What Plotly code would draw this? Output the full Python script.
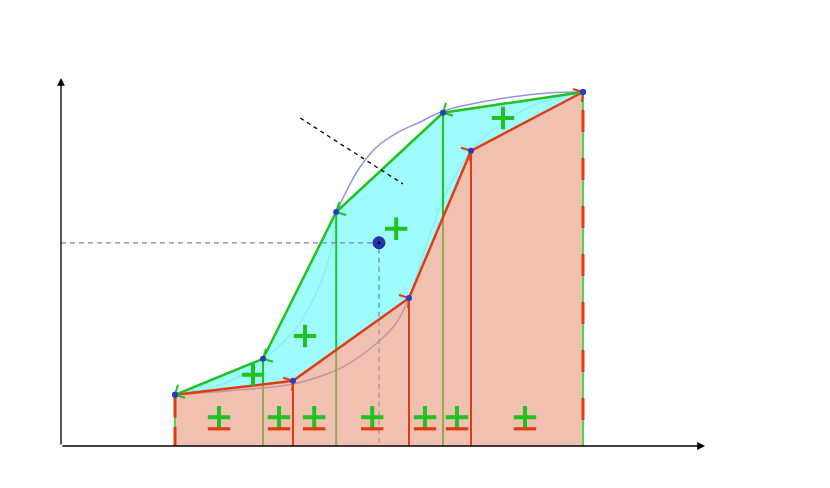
import plotly.graph_objects as go

# upper polygonal path (green) and lower polygonal path (red), data units
upper_x = [2.85, 5.05, 6.88, 9.55, 13.05]
upper_y = [1.28, 2.18, 5.85, 8.33, 8.85]
lower_x = [2.85, 5.8, 8.7, 10.25, 13.05]
lower_y = [1.28, 1.63, 3.7, 7.38, 8.85]

# the two smooth curves
curve_hi_x = [2.85, 3.85, 4.73, 5.35, 5.9, 6.3, 6.6, 6.78, 6.9, 7.15, 7.48, 7.9, 8.4, 8.98, 9.55, 10.98, 12.23, 13.05]
curve_hi_y = [1.28, 1.48, 1.9, 2.4, 2.98, 3.65, 4.35, 5.05, 5.83, 6.4, 6.98, 7.48, 7.83, 8.1, 8.37, 8.68, 8.83, 8.85]
curve_lo_x = [2.85, 4.23, 5.8, 6.73, 7.23, 7.85, 8.35, 8.7, 9.15, 9.55, 9.9, 10.25, 11.05, 11.98, 13.05]
curve_lo_y = [1.28, 1.38, 1.55, 1.83, 2.08, 2.53, 3.03, 3.7, 5.08, 6.15, 6.83, 7.38, 8.1, 8.58, 8.85]

# marked point and its normal line
pt_x, pt_y = 7.95, 5.08
normal_x = [5.98, 8.55]
normal_y = [8.2, 6.55]

# signs
plus_x = [4.8, 6.1, 8.38, 11.05]
plus_y = [1.78, 2.75, 5.43, 8.2]
pm_x = [3.95, 5.45, 6.33, 7.78, 9.1, 9.9, 11.6]
pm_y_plus = 0.72
pm_y_minus = 0.43

x_end, y_end = 16.1, 9.2

GREEN = "#1fc21f"
RED = "#e03c12"
DOT = "#2b3bc8"
CURVE = "#8e97e0"
PX = 40.0  # pixels per unit


def barbs(xs, ys, offs):
    bx, by = [], []
    for x, y in zip(xs, ys):
        for dx, dy in offs:
            bx += [x, x + dx / PX, None]
            by += [y, y - dy / PX, None]
    return bx, by


fig = go.Figure()

# curves (under the fills)
for cx, cy in [(curve_hi_x, curve_hi_y), (curve_lo_x, curve_lo_y)]:
    fig.add_trace(go.Scatter(x=cx, y=cy, mode="lines",
                             line=dict(color=CURVE, width=1.5, shape="spline", smoothing=1)))

# cyan region between the two paths
fig.add_trace(go.Scatter(
    x=upper_x + lower_x[::-1], y=upper_y + lower_y[::-1],
    mode="none", fill="toself", fillcolor="rgba(142,252,252,0.85)"))

# dashed projections of the point
fig.add_trace(go.Scatter(x=[0, pt_x, pt_x], y=[pt_y, pt_y, 0], mode="lines",
                         line=dict(color="#6f86d8", width=1.3, dash="5px,4px")))

# green verticals (interior)
vx, vy = [], []
for x, y in zip(upper_x[1:-1], upper_y[1:-1]):
    vx += [x, x, None]
    vy += [0, y, None]
fig.add_trace(go.Scatter(x=vx, y=vy, mode="lines", line=dict(color=GREEN, width=2)))

# salmon area under lower path
fig.add_trace(go.Scatter(
    x=[lower_x[0]] + lower_x + [lower_x[-1]], y=[0] + lower_y + [0],
    mode="none", fill="toself", fillcolor="rgba(230,150,123,0.6)"))

# red verticals (interior)
vx, vy = [], []
for x, y in zip(lower_x[1:-1], lower_y[1:-1]):
    vx += [x, x, None]
    vy += [0, y, None]
fig.add_trace(go.Scatter(x=vx, y=vy, mode="lines", line=dict(color=RED, width=2)))

# edge verticals: green with red dashes
fig.add_trace(go.Scatter(x=[upper_x[0], upper_x[0]], y=[upper_y[0], 0], mode="lines",
                         line=dict(color="#4fd84f", width=2)))
fig.add_trace(go.Scatter(x=[upper_x[-1], upper_x[-1]], y=[upper_y[-1], 0], mode="lines",
                         line=dict(color="#4fd84f", width=2)))
fig.add_trace(go.Scatter(x=[lower_x[0], lower_x[0]], y=[lower_y[0], 0], mode="lines",
                         line=dict(color=RED, width=3, dash="23px,9px")))
fig.add_trace(go.Scatter(x=[lower_x[-1], lower_x[-1]], y=[lower_y[-1], 0], mode="lines",
                         line=dict(color=RED, width=3, dash="0px,18px,22px,8px")))

# paths
fig.add_trace(go.Scatter(x=lower_x, y=lower_y, mode="lines", line=dict(color=RED, width=2.5)))
fig.add_trace(go.Scatter(x=upper_x, y=upper_y, mode="lines", line=dict(color=GREEN, width=2.5)))

# arrow barbs
bx, by = barbs(lower_x[1:], lower_y[1:], [(-10, -3), (-1, 10)])
fig.add_trace(go.Scatter(x=bx, y=by, mode="lines", line=dict(color=RED, width=2)))
bx, by = barbs(upper_x[:-1], upper_y[:-1], [(3, -10), (10, 3)])
fig.add_trace(go.Scatter(x=bx, y=by, mode="lines", line=dict(color=GREEN, width=2)))

# vertices
fig.add_trace(go.Scatter(x=upper_x + lower_x, y=upper_y + lower_y, mode="markers",
                         marker=dict(color=DOT, size=6)))

# normal line
fig.add_trace(go.Scatter(x=normal_x, y=normal_y, mode="lines",
                         line=dict(color="black", width=1.3, dash="4px,4px")))

# marked point
fig.add_trace(go.Scatter(x=[pt_x], y=[pt_y], mode="markers",
                         marker=dict(color="#2436b4", size=12, line=dict(color="#1a2690", width=1))))
fig.add_trace(go.Scatter(x=[pt_x], y=[pt_y], mode="markers",
                         marker=dict(color="black", size=3)))

# signs
fig.add_trace(go.Scatter(x=plus_x + pm_x, y=plus_y + [pm_y_plus] * len(pm_x), mode="markers",
                         marker=dict(symbol="cross-thin", size=16, line=dict(color=GREEN, width=4))))
fig.add_trace(go.Scatter(x=pm_x, y=[pm_y_minus] * len(pm_x), mode="markers",
                         marker=dict(symbol="line-ew", size=16, line=dict(color=RED, width=3.2))))

# axes with arrows
for (hx, hy) in [(x_end, 0), (0, y_end)]:
    fig.add_annotation(x=hx, y=hy, ax=0, ay=0, xref="x", yref="y", axref="x", ayref="y",
                       text="", showarrow=True, arrowhead=2, arrowsize=1.2,
                       arrowwidth=1.3, arrowcolor="black", standoff=0)

# the page body adds 8px, so margins are shifted to keep the plot area in place
fig.update_layout(
    width=830, height=488,
    margin=dict(l=53, r=57, t=30, b=50),
    showlegend=False,
    plot_bgcolor="white", paper_bgcolor="white",
    xaxis=dict(range=[0, 18], visible=False, fixedrange=True),
    yaxis=dict(range=[0, 10.2], visible=False, fixedrange=True),
)

fig.write_html("out.html")
